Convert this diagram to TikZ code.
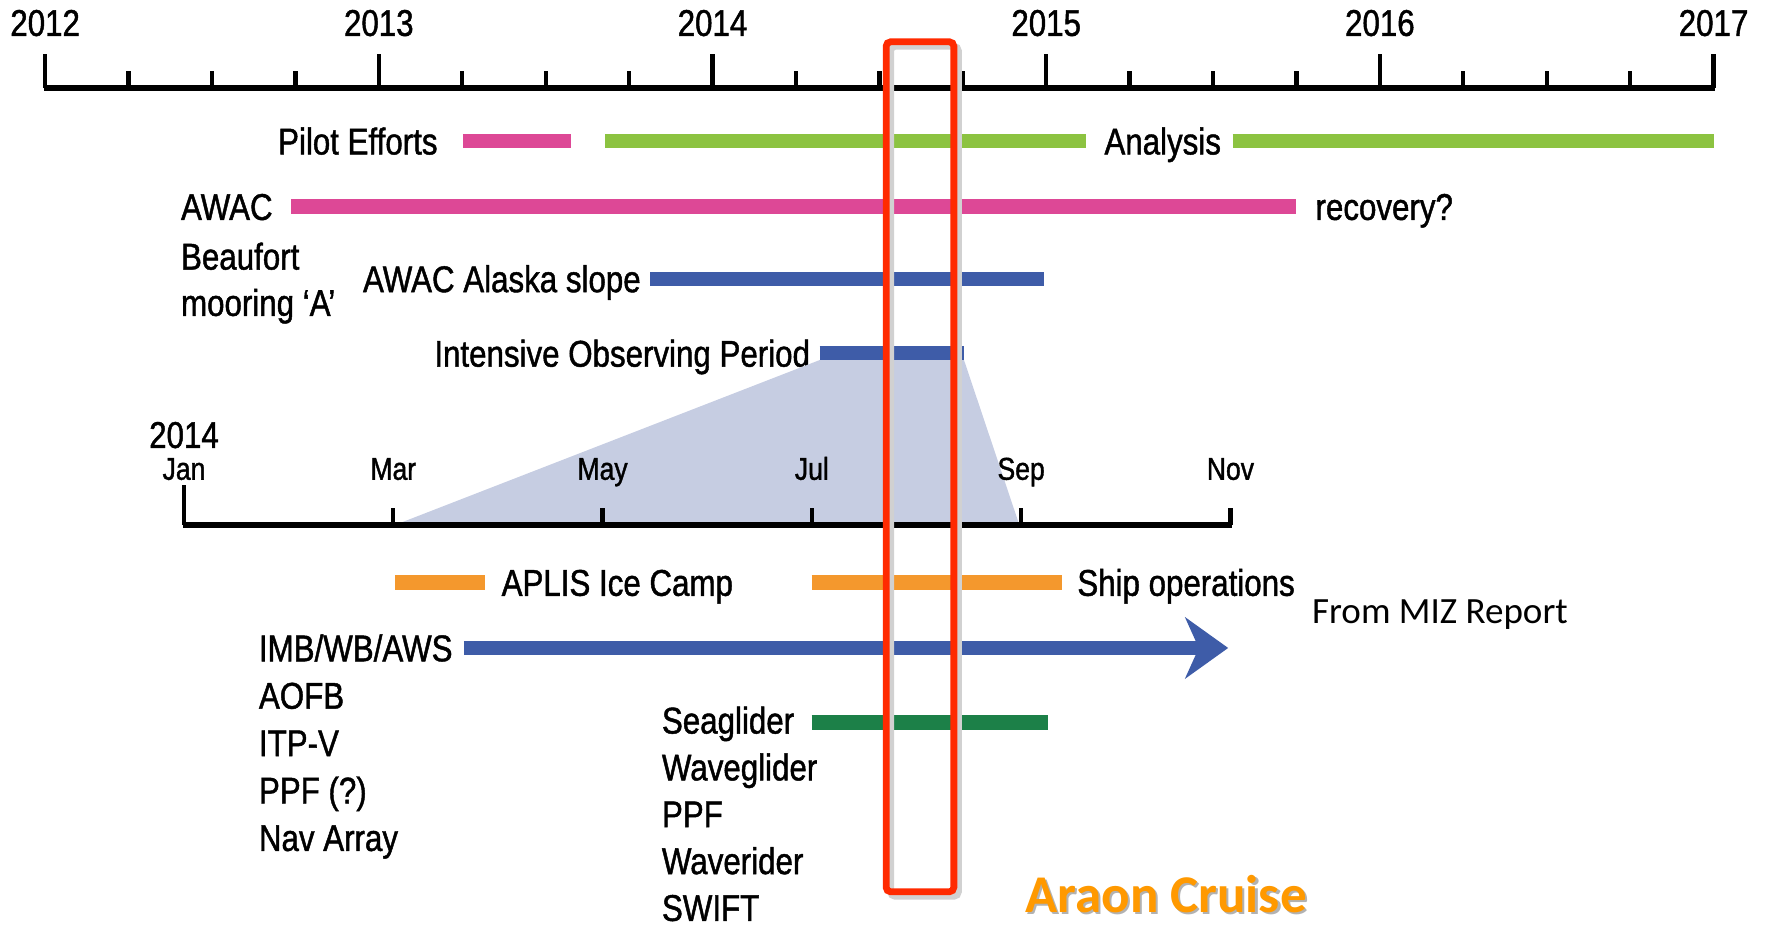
\documentclass[tikz,border=0pt]{standalone}
\usepackage{fontspec}
\setmainfont{Liberation Sans}[FakeStretch=0.84,FakeBold=1.2]
\newfontfamily\calfont{Carlito}
\usetikzlibrary{arrows.meta}

\definecolor{pinkbar}{RGB}{221,72,150}
\definecolor{greenbar}{RGB}{140,195,65}
\definecolor{bluebar}{RGB}{62,92,168}
\definecolor{orangebar}{RGB}{244,152,45}
\definecolor{seagreen}{RGB}{28,128,72}
\definecolor{iopshade}{RGB}{198,205,226}
\definecolor{cruisered}{RGB}{255,42,0}
\definecolor{cruiseorange}{RGB}{255,153,0}

\tikzset{
  lbl/.style={inner sep=0pt, font=\fontsize{16.5}{18}\selectfont, text height=11.8pt, text depth=0pt},
  mon/.style={inner sep=0pt, font=\fontsize{14}{16}\selectfont, text height=10pt, text depth=0pt},
  bar/.style={line width=6.4pt},
  axis/.style={line width=2.6pt},
  tick/.style={line width=1.9pt}
}

\begin{document}
\begin{tikzpicture}[x=0.5pt,y=-0.5pt]
\useasboundingbox (0,0) rectangle (1568,821);

% years
\draw[axis] (39,78) -- (1519,78);
\foreach \yr [count=\i from 0] in {2012,...,2017}{
	\draw[tick] ({40+295.6*\i},78) -- ({40+295.6*\i},48);
	\node[lbl] (y\yr) at ({40+295.6*\i},20) {\yr};
}
\foreach \i in {0,...,4}
	\foreach \q in {1,2,3}{
		\draw[tick] ({40+295.6*\i+73.9*\q},78) -- ++(0,-15);
	}

\node[lbl,anchor=east] (pilot) at (388,125) {Pilot Efforts};
\draw[bar,pinkbar] (410,125) -- (506,125);
\draw[bar,greenbar] (536,125) -- (962,125);
\node[lbl,anchor=west] (analysis) at (978,125) {Analysis};
\draw[bar,greenbar] (1092,125) -- (1518,125);

\node[lbl,anchor=west] (awac) at (160,183) {AWAC};
\draw[bar,pinkbar] (258,183) -- (1148,183);
\node[lbl,anchor=west] (recovery) at (1165,183) {recovery?};
\node[lbl,anchor=west] (beaufort) at (160,227) {Beaufort};
\node[lbl,anchor=west] (mooring) at (160,268) {mooring `A'};

\node[lbl,anchor=east] (slope) at (568,247) {AWAC Alaska slope};
\draw[bar,bluebar] (576,247) -- (925,247);

\node[lbl,anchor=east] (iop) at (718,313) {Intensive Observing Period};
\draw[bar,bluebar] (726,313) -- (854,313);

% zoom into 2014
\fill[iopshade] (726,319) -- (854,319) -- (903,465) -- (350,465) -- cycle;
\node[lbl] (y2014b) at (163,385) {2014};
\draw[axis] (162,465) -- (1091,465);
\draw[tick] (163,465) -- (163,430);
\foreach \m [count=\i from 0] in {Jan,Mar,May,Jul,Sep,Nov}{
	\node[mon] (m\m) at ({163+185.4*\i},415) {\m};
}
\foreach \i in {1,...,5}{
	\draw[tick] ({163+185.4*\i},465) -- ++(0,-15);
}

\draw[bar,orangebar] (350,516) -- (430,516);
\node[lbl,anchor=west] (aplis) at (444,516) {APLIS Ice Camp};
\draw[bar,orangebar] (719,516) -- (941,516);
\node[lbl,anchor=west] (ship) at (954,516) {Ship operations};

\node[anchor=west,inner sep=0pt,font=\calfont\fontsize{16.4}{18}\selectfont,text height=10.6pt,text depth=0pt] (miz) at (1162,542) {From MIZ Report};

\node[lbl,anchor=west] (imb) at (229,574) {IMB/WB/AWS};
\draw[bar,bluebar,-{Stealth[length=19pt,width=27pt,inset=6pt]}] (411,574) -- (1088,574);
\foreach \t [count=\i] in {AOFB,ITP-V,PPF (?),Nav Array}{
	\node[lbl,anchor=west] (inst\i) at (229,{574+42*\i}) {\t};
}

\node[lbl,anchor=west] (seaglider) at (586,638) {Seaglider};
\draw[bar,seagreen] (719,640) -- (928,640);
\foreach \t [count=\i] in {Waveglider,PPF,Waverider,SWIFT}{
	\node[lbl,anchor=west] (auto\i) at (586,{638+41.5*\i}) {\t};
}

% cruise window
\draw[black!18,line width=3pt,rounded corners=2pt] (789,41) rectangle (849,794);
\draw[cruisered,line width=3pt,rounded corners=2pt] (785,37) rectangle (845,790);
\node[anchor=west,inner sep=0pt,font=\calfont\bfseries\fontsize{23.5}{27}\selectfont,text height=15pt,text depth=0pt,text=black!30] (araonshadow) at (910,795) {Araon Cruise};
\node[anchor=west,inner sep=0pt,font=\calfont\bfseries\fontsize{23.5}{27}\selectfont,text height=15pt,text depth=0pt,text=cruiseorange] (araon) at (908,793) {Araon Cruise};
\end{tikzpicture}
\end{document}
